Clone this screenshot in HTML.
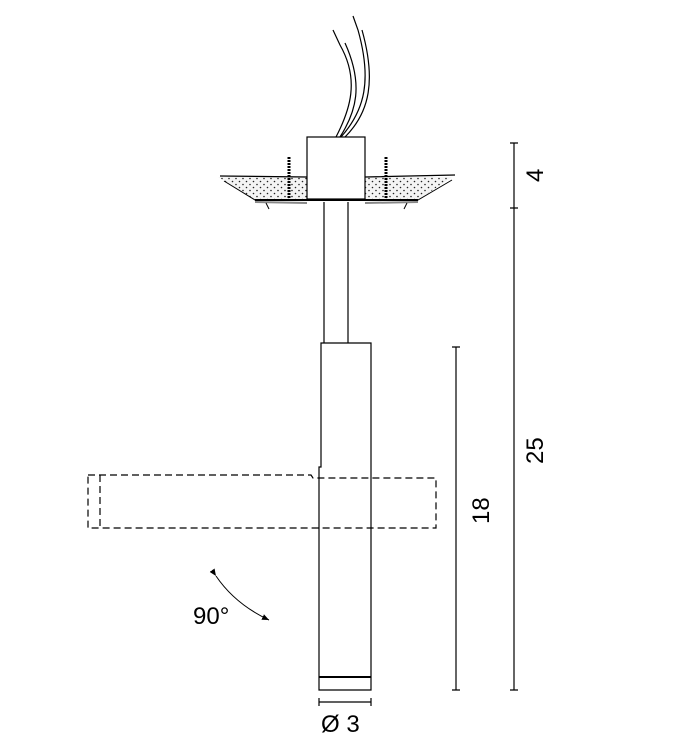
<!DOCTYPE html>
<html><head><style>body{margin:0;background:#fff}svg{display:block}</style></head><body>
<svg width="684" height="745" viewBox="0 0 684 745" xmlns="http://www.w3.org/2000/svg" font-family="Liberation Sans, sans-serif">
<defs><pattern id="dots" width="7" height="6" patternUnits="userSpaceOnUse"><rect width="7" height="6" fill="#f4f4f4"/><circle cx="1.5" cy="1.5" r="0.8" fill="#222"/><circle cx="5" cy="4.5" r="0.8" fill="#222"/></pattern>
<marker id="ar" markerWidth="8" markerHeight="8" refX="7" refY="4" orient="auto"><path d="M0,1 L7,4 L0,7 Z" fill="#000"/></marker></defs>
<g stroke="#000" fill="none" stroke-width="1.2">
<path d="M218,177 L307,177 L307,200 L255,200 Z" fill="url(#dots)" stroke="none"/>
<path d="M365,177 L452,177 L418,200 L365,200 Z" fill="url(#dots)" stroke="none"/>
<path d="M220,176 L307,177 M365,177 L455,175" />
<path d="M224,181 L255,200 L418,200 L452,180" stroke-width="1"/>
<path d="M255,202 L307,203 M365,203 L418,202" stroke="#888" stroke-width="2"/>
<path d="M266,203 L269,209 M407,203 L404,209" stroke-width="1"/>
<path d="M289,157 L289,198 M386,157 L386,198" stroke-width="3" stroke-dasharray="2 1"/>
<path d="M284,200 L294,200 M381,200 L391,200" />
<rect x="307" y="137" width="58" height="62" fill="#fff"/>
<path d="M336,137 C350,110 360,80 340,45 L333,30" />
<path d="M340,137 C356,112 364,85 345,43" />
<path d="M341,137 C365,110 372,80 358,30 L353,16"/>
<path d="M345,137 C370,112 376,80 362,30"/>
<path d="M255,200 L418,200" stroke-width="2"/>
<path d="M324,202 L324,343 M348,202 L348,343"/>
<path d="M321,343 L371,343 L371,690 L319,690 L319,467 L321,467 Z"/>
<path d="M319,677 L371,677" stroke-width="2"/>
<g stroke-dasharray="7 4">
<path d="M88,475 L311,475 L313,478 L436,478 L436,528 L88,528 Z"/>
<path d="M100,475 L100,528"/>
</g>
<path d="M216,576 Q235,604 269,620" marker-end="url(#ar)" marker-start="url(#ar)" stroke-width="1"/>
<path d="M319,702 L371,702 M319,698 L319,706 M371,698 L371,706"/>
<path d="M456,347 L456,690 M452,347 L460,347 M452,690 L460,690"/>
<path d="M514,143 L514,690 M510,143 L518,143 M510,208 L518,208 M510,690 L518,690"/>
</g>
<g font-size="24" fill="#000">
<text x="193" y="624">90°</text>
<text x="321" y="732">Ø 3</text>
<text transform="translate(543,182) rotate(-90)">4</text>
<text transform="translate(543,464) rotate(-90)">25</text>
<text transform="translate(489,524) rotate(-90)">18</text>
</g>
</svg>
</body></html>
